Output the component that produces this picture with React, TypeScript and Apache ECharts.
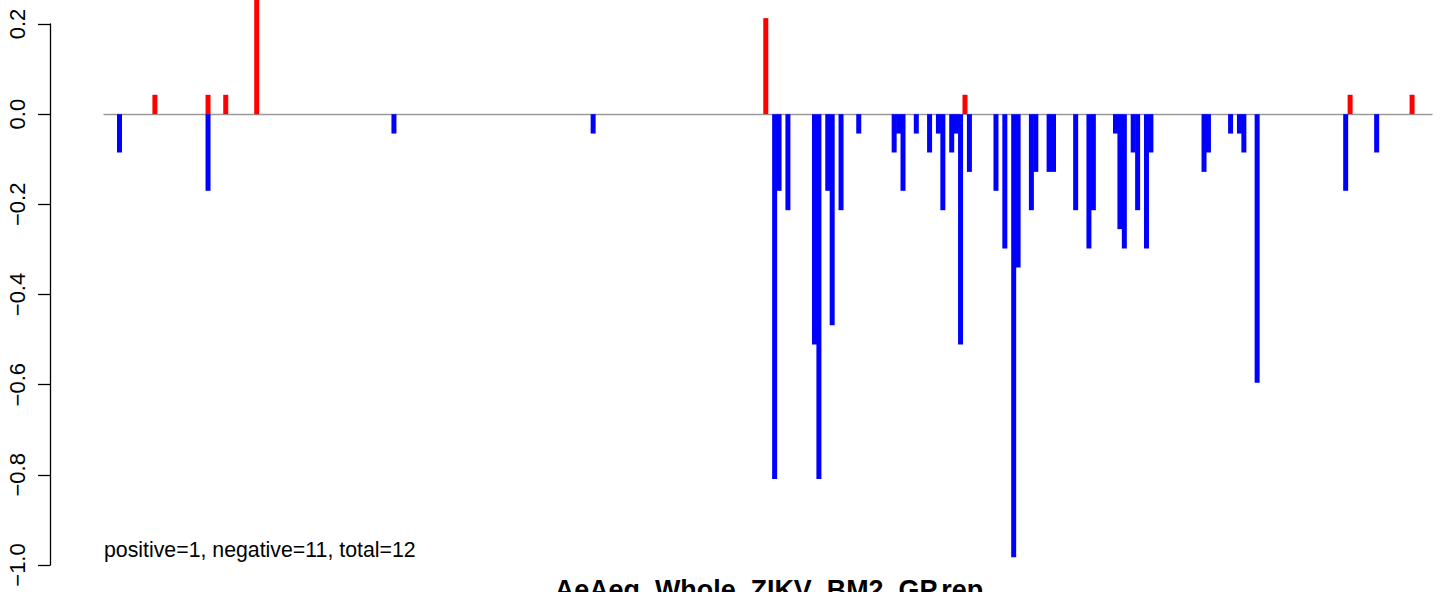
import React, { useEffect, useRef } from "react";
import * as echarts from "echarts";

// number of bar slots along the x axis
const SLOT_COUNT = 300;

// positive (red) bars: slot index and value
const posIndex = [11, 23, 27, 34, 149, 194, 281, 295];
const posValue = [0.043, 0.043, 0.043, 0.34, 0.213, 0.043, 0.043, 0.043];

// negative (blue) bars: slot index and value
const negIndex = [
  3, 23, 65, 110, 151, 152, 154, 160, 161, 163, 164, 166, 170, 178, 179, 180,
  183, 186, 188, 189, 191, 192, 193, 195, 201, 203, 205, 206, 209, 210, 213,
  214, 219, 222, 223, 228, 229, 230, 232, 233, 235, 236, 248, 249, 254, 256,
  257, 260, 280, 287,
];
const negValue = [
  -0.085, -0.17, -0.043, -0.043, -0.809, -0.17, -0.213, -0.511, -0.809, -0.17,
  -0.468, -0.213, -0.043, -0.085, -0.043, -0.17, -0.043, -0.085, -0.043,
  -0.213, -0.085, -0.043, -0.511, -0.128, -0.17, -0.298, -0.983, -0.34,
  -0.213, -0.128, -0.128, -0.128, -0.213, -0.298, -0.213, -0.043, -0.255,
  -0.298, -0.085, -0.213, -0.298, -0.085, -0.128, -0.085, -0.043, -0.043,
  -0.085, -0.596, -0.17, -0.085,
];

// y axis ticks
const yMin = -1.0;
const yMax = 0.2;
const yStep = 0.2;

const annotation = "positive=1, negative=11, total=12";
const title = "AeAeg_Whole_ZIKV_BM2_GP.rep";

const FONT = "'Liberation Sans', Arial, Helvetica, sans-serif";

export default function App() {
  const ref = useRef<HTMLDivElement>(null);

  useEffect(() => {
    if (!ref.current) return;
    const chart = echarts.init(ref.current, null, { renderer: "svg" });

    const categories = Array.from({ length: SLOT_COUNT }, (_, i) => String(i + 1));
    const posData: (number | null)[] = Array(SLOT_COUNT).fill(null);
    const negData: (number | null)[] = Array(SLOT_COUNT).fill(null);
    posIndex.forEach((idx, k) => (posData[idx] = posValue[k]));
    negIndex.forEach((idx, k) => (negData[idx] = negValue[k]));

    chart.setOption({
      animation: false,
      backgroundColor: "#ffffff",
      grid: { left: 104, right: 15, top: 24, bottom: 27, containLabel: false },
      xAxis: {
        type: "category",
        data: categories,
        axisLine: { show: true, onZero: true, lineStyle: { color: "#9a9a9a", width: 1.3 } },
        axisTick: { show: false },
        axisLabel: { show: false },
        splitLine: { show: false },
      },
      yAxis: {
        type: "value",
        min: yMin,
        max: yMax,
        interval: yStep,
        position: "left",
        offset: 54,
        axisLine: { show: true, lineStyle: { color: "#000", width: 1.3 } },
        axisTick: { show: true, inside: false, length: 12, lineStyle: { color: "#000", width: 1.3 } },
        axisLabel: {
          show: true,
          rotate: 90,
          margin: 22,
          fontSize: 22,
          color: "#000",
          fontFamily: FONT,
          formatter: (v: number) => v.toFixed(1).replace("-", "\u2212"),
        },
        splitLine: { show: false },
      },
      series: [
        {
          type: "bar",
          data: posData,
          barWidth: 5,
          barGap: "-100%",
          clip: false,
          itemStyle: { color: "#ff0000" },
        },
        {
          type: "bar",
          data: negData,
          barWidth: 5,
          barGap: "-100%",
          clip: false,
          itemStyle: { color: "#0000ff" },
        },
      ],
      graphic: [
        {
          type: "text",
          x: 104,
          y: 550,
          style: {
            text: annotation,
            fill: "#000",
            font: `21.3px ${FONT}`,
            textAlign: "left",
            textVerticalAlign: "middle",
            align: "left",
            verticalAlign: "middle",
          },
        },
        {
          type: "text",
          x: 769,
          y: 590,
          style: {
            text: title,
            fill: "#000",
            font: `bold 26.9px ${FONT}`,
            textAlign: "center",
            textVerticalAlign: "middle",
            align: "center",
            verticalAlign: "middle",
          },
        },
      ],
    });

    return () => chart.dispose();
  }, []);

  return (
    <div
      ref={ref}
      style={{ position: "fixed", left: 0, top: 0, width: 1447, height: 592, background: "#fff" }}
    />
  );
}
